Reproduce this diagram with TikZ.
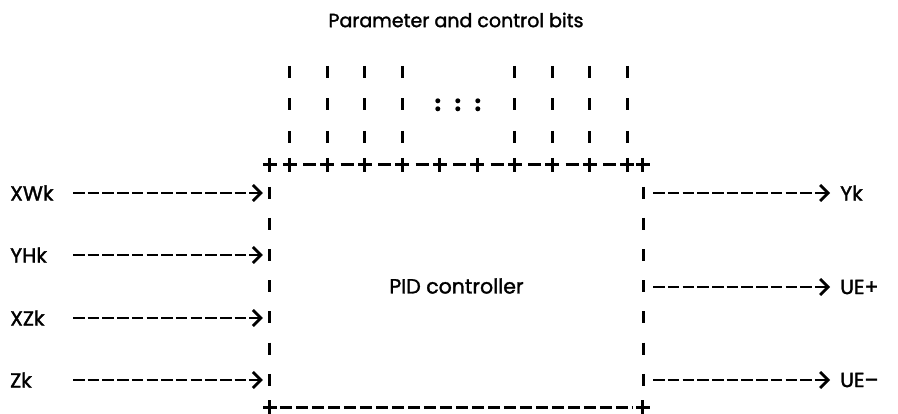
\documentclass[tikz,border=0pt]{standalone}
\usepackage{fontspec}
\setmainfont{Poppins}[FakeBold=1.6]
\usetikzlibrary{arrows.meta}
\begin{document}
\begin{tikzpicture}[x=1pt,y=-1pt,
  lbl/.style={inner sep=0pt, font=\fontsize{20.5}{24}\selectfont},
  ttl/.style={inner sep=0pt, font=\fontsize{19}{23}\selectfont},
  box/.style={rectangle, inner sep=0pt, minimum width=373pt, minimum height=242pt, font=\fontsize{20.5}{24}\selectfont},
  vedge/.style={line width=2.8pt, dash pattern=on 12pt off 19.17pt},
  bitcol/.style={line width=2.8pt, dash pattern=on 12pt off 20.5pt},
  hedgetop/.style={line width=2.8pt, dash pattern=on 13pt off 24.5pt, dash phase=24.25pt},
  hedgebot/.style={line width=2.8pt, dash pattern=on 12pt off 4pt},
  plusline/.style={line width=2.8pt},
  flow/.style={line width=2.8pt, dash pattern=on 11.5pt off 3.2pt,
    -{Straight Barb[length=8pt,width=16pt,line width=2.8pt]}},
  dotmark/.style={fill=black, draw=none}
]
\useasboundingbox (0,0) rectangle (898,414);

% title and box
\node[ttl] (title) at (456,20) {Parameter and control bits};
\node[box] (pid) at (456.5,286) {PID controller};

% left and right edges
\draw[vedge] ([yshift=-22pt]pid.north west) -- ([yshift=21pt]pid.south west);
\draw[vedge] ([yshift=-22pt]pid.north east) -- ([yshift=21pt]pid.south east);

% top edge: dashes between the bit junctions
\draw[hedgetop] ([xshift=20pt]pid.north west) -- ([xshift=357.5pt]pid.north west);
\foreach \x in {0,20,57.5,95,132.5,170,207.5,245,282.5,320,357.5,373}
  \draw[plusline] ([xshift=\x pt]pid.north west) ++(-7,0) -- ++(14,0) ++(-7,-7) -- ++(0,14);

% bottom edge
\draw[hedgebot] ([xshift=10pt]pid.south west) -- ([xshift=-10pt]pid.south east);
\foreach \x in {0,373}
  \draw[plusline] ([xshift=\x pt]pid.south west) ++(-7,0) -- ++(14,0) ++(-7,-7) -- ++(0,14);

% parameter and control bit lines
\foreach \x in {20,57.5,95,132.5,245,282.5,320,357.5}
  \draw[bitcol] ([xshift=\x pt, yshift=99pt]pid.north west) -- ([xshift=\x pt, yshift=22pt]pid.north west);
\foreach \x in {168,188,208}{
  \fill[dotmark] ([xshift=\x pt, yshift=64pt]pid.north west) circle (2.5pt);
  \fill[dotmark] ([xshift=\x pt, yshift=56pt]pid.north west) circle (2.5pt);
}

% inputs
\node[lbl, anchor=west] (xwk) at (10,193) {XWk};
\node[lbl, anchor=west] (yhk) at (10,255) {YHk};
\node[lbl, anchor=west] (xzk) at (10,318) {XZk};
\node[lbl, anchor=west] (zk)  at (10,380) {Zk};
\foreach \n in {xwk,yhk,xzk,zk}
  \draw[flow, shorten <=63pt, shorten >=7pt] (\n.west) -- (\n.west -| pid.west);

% outputs
\node[lbl, anchor=west] (yk)  at (840,193) {Yk};
\node[lbl, anchor=west] (uep) at (840,287) {UE+};
\node[lbl, anchor=west] (uem) at (840,380) {UE–};
\foreach \n in {yk,uep,uem}
  \draw[flow, shorten <=10pt, shorten >=10pt] (\n.west -| pid.east) -- (\n.west);
\end{tikzpicture}
\end{document}
